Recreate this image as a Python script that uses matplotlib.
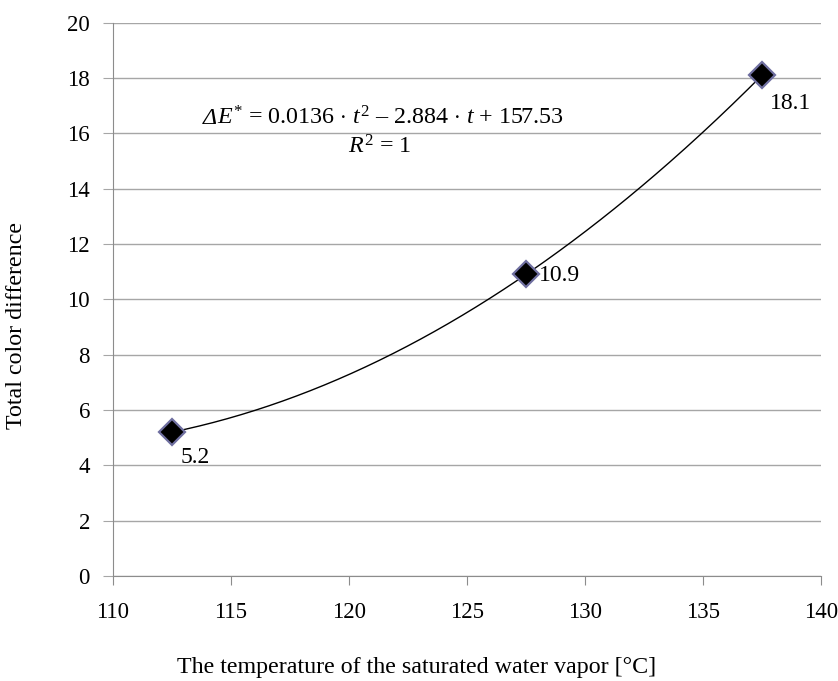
import numpy as np
import matplotlib
matplotlib.use("Agg")
import matplotlib.pyplot as plt

# measured data (temperature of saturated water vapor, total color difference)
temps = [112.5, 127.5, 137.5]
delta_e = [5.2, 10.9, 18.1]
point_labels = ["5.2", "10.9", "18.1"]
x_ticks = [110, 115, 120, 125, 130, 135, 140]
y_ticks = [0, 2, 4, 6, 8, 10, 12, 14, 16, 18, 20]

plt.rcParams["font.family"] = ["Liberation Serif", "DejaVu Serif"]
plt.rcParams["mathtext.fontset"] = "custom"
plt.rcParams["mathtext.rm"] = "Liberation Serif"
plt.rcParams["mathtext.it"] = "Liberation Serif:italic"

W, H = 838, 681
fig = plt.figure(figsize=(W / 100, H / 100), dpi=100)
ax = fig.add_axes([113 / W, 1 - 576 / H, 708 / W, (576 - 22.7) / H])

# 2nd order trendline through the points
coef = np.polyfit(temps, delta_e, 2)
tt = np.linspace(temps[0], temps[-1], 300)
ax.plot(tt, np.polyval(coef, tt), color="black", lw=1.0, zorder=3)

ax.plot(temps, delta_e, linestyle="none", marker="D", ms=13,
        mfc="black", mec="#6f6fa0", mew=1.6, zorder=4)

offsets = [(6, -18), (9, -1), (6, -20)]
for x, y, s, (dx, dy) in zip(temps, delta_e, point_labels, offsets):
    ax.annotate(s, (x, y), xytext=(dx, dy), textcoords="offset points",
                ha="left", va="center", fontsize=17)

# equation: italic delta drawn separately, rest as mathtext
eq = ax.text(121.3 + 0.45, 16.55,
             r"$\mathit{E}^{*}$ = 0.0136 $\cdot$ $\mathit{t}^{2}$ – 2.884 $\cdot$ $\mathit{t}$ + 157.53",
             ha="center", va="center", fontsize=17.3)
ax.annotate("Δ", xy=(0, 0.5), xycoords=eq, ha="right", va="center",
            fontsize=17.3, fontstyle="italic")
ax.text(121.3, 15.5, r"$\mathit{R}^{2}$ = 1", ha="center", va="center", fontsize=17.3)

ax.set_xlim(110, 140)
ax.set_ylim(0, 20)
ax.set_xticks(x_ticks)
ax.set_yticks(y_ticks)
ax.grid(axis="y", color="#a6a6a6", lw=1.0)
ax.set_axisbelow(True)
for side in ["top", "right"]:
    ax.spines[side].set_visible(False)
for side in ["left", "bottom"]:
    ax.spines[side].set_color("#8c8c8c")
ax.tick_params(axis="x", direction="out", length=6.5, color="#8c8c8c",
               labelsize=16.5, pad=12)
ax.tick_params(axis="y", direction="out", length=7.2, color="#a6a6a6",
               labelsize=16.5, pad=9.4)

fig.text(417 / W, 1 - 667 / H, "The temperature of the saturated water vapor [°C]",
         fontsize=17.3, ha="center", va="center")
fig.text(17 / W, 1 - 326 / H, "Total color difference", fontsize=17.3,
         rotation=90, ha="center", va="center")

fig.savefig("out.png", dpi=100)
